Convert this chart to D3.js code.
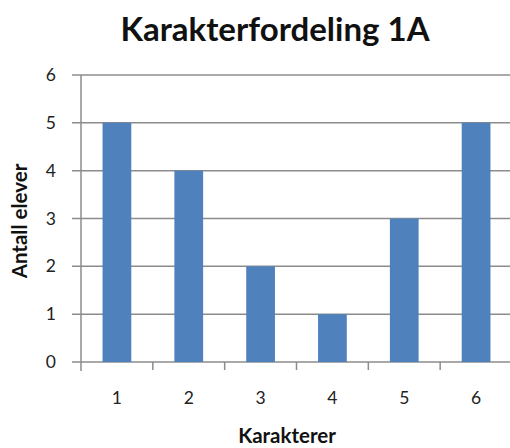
<!DOCTYPE html>
<html><head><meta charset="utf-8">
<script src="https://cdn.jsdelivr.net/npm/d3@7"></script>
<style>body{margin:0;background:#fff;}svg{display:block;}</style>
</head><body>
<svg id="c" width="510" height="448"></svg>
<script>
const categories = ["1","2","3","4","5","6"];
const values = [5,4,2,1,3,5];
const yTicks = [0,1,2,3,4,5,6];
const title = "Karakterfordeling 1A";
const xTitle = "Karakterer";
const yTitle = "Antall elever";

(function(){
const svg = d3.select("#c");
const font = "Lato, 'Open Sans', sans-serif";
const pL = 81, pR = 512, pT = 75, pB = 362;

const x = d3.scaleBand().domain(categories).range([pL, pR]).paddingInner(0.6).paddingOuter(0.3);
const y = d3.scaleLinear().domain([0,6]).range([pB, pT]);

// gridlines
svg.append("g").selectAll("line").data(yTicks).join("line")
  .attr("x1", pL - 9).attr("x2", 510)
  .attr("y1", d => y(d)).attr("y2", d => y(d))
  .attr("stroke", "#8c8c8c").attr("stroke-width", 1.5);

// bars
svg.append("g").selectAll("rect").data(values).join("rect")
  .attr("x", (d,i) => x(categories[i]))
  .attr("width", x.bandwidth())
  .attr("y", d => y(d))
  .attr("height", d => y(0) - y(d))
  .attr("fill", "#4f81bd");

// y axis line
svg.append("line").attr("x1", pL).attr("x2", pL).attr("y1", pT).attr("y2", pB + 9)
  .attr("stroke", "#8c8c8c").attr("stroke-width", 1.5);

// x axis ticks (between categories)
const xTickPos = d3.range(1, categories.length).map(i => pL + i * x.step());
svg.append("g").selectAll("line").data(xTickPos).join("line")
  .attr("x1", d => d).attr("x2", d => d).attr("y1", pB).attr("y2", pB + 8)
  .attr("stroke", "#8c8c8c").attr("stroke-width", 1.5);

// y tick labels
svg.append("g").selectAll("text").data(yTicks).join("text")
  .attr("x", 56).attr("y", d => y(d)).attr("dy", "0.35em")
  .attr("text-anchor", "end").attr("font-family", font).attr("font-size", 17.5)
  .attr("fill", "#222").text(d => d);

// x tick labels
svg.append("g").selectAll("text").data(categories).join("text")
  .attr("x", d => x(d) + x.bandwidth()/2).attr("y", 398).attr("dy", "0.35em")
  .attr("text-anchor", "middle").attr("font-family", font).attr("font-size", 17.5)
  .attr("fill", "#222").text(d => d);

// title
svg.append("text").attr("x", 275).attr("y", 41).attr("text-anchor", "middle")
  .attr("font-family", font).attr("font-weight", "bold").attr("font-size", 33)
  .attr("fill", "#111").text(title);

// x title
svg.append("text").attr("x", 287).attr("y", 443).attr("text-anchor", "middle")
  .attr("font-family", font).attr("font-weight", "bold").attr("font-size", 20.5)
  .attr("fill", "#111").text(xTitle);

// y title
svg.append("text").attr("transform", "translate(27,221) rotate(-90)").attr("text-anchor", "middle")
  .attr("font-family", font).attr("font-weight", "bold").attr("font-size", 20.5)
  .attr("fill", "#111").text(yTitle);
})();
</script>
</body></html>
